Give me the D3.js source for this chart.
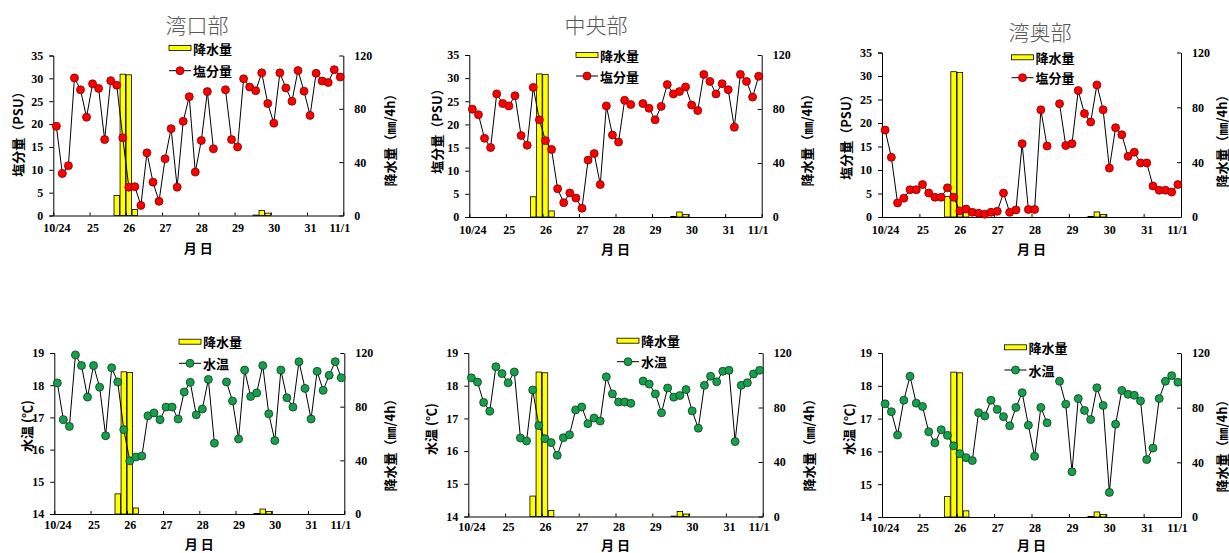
<!DOCTYPE html>
<html>
<head>
<meta charset="utf-8">
<script src="https://cdn.jsdelivr.net/npm/d3@7"></script>
<style>
  body { margin: 0; background: #fff; }
  svg text { font-family: "Noto Sans CJK JP", sans-serif; }
  .tick text { font-family: "Liberation Serif", serif; font-weight: bold; font-size: 12px; fill: #000; }
  .lbl { font-weight: bold; font-size: 13px; }
  .title { font-size: 21px; fill: #595959; font-weight: 300; }
</style>
</head>
<body>
<svg id="chart" width="1229" height="553"></svg>
<script>
// x tick labels (10/24 .. 11/1)
var dayLabels = ["10/24", "25", "26", "27", "28", "29", "30", "31", "11/1"];

// rainfall, mm per 4h (same station for every panel)
var rain = [0, 0, 0, 0, 0, 0, 0, 0, 0, 0,
  15, 106, 105.5, 4.5, 0, 0, 0, 0, 0, 0,
  0, 0, 0, 0, 0, 0, 0, 0, 0, 0,
  0, 0, 0, 0.3, 3.7, 1.8, 0, 0, 0, 0,
  0, 0, 0, 0, 0, 0, 0, 0];

// salinity (PSU)
var salMouth = [19.5, 9.2, 10.9, 30.1, 27.5, 21.5, 28.8, 27.8, 16.6, 29.5,
  28.5, 17.0, 6.2, 6.3, 2.2, 13.7, 7.3, 3.1, 12.4, 19.0,
  6.2, 20.6, 26.0, 9.5, 16.4, 27.1, 14.6, null, 27.5, 16.6,
  15.0, 29.9, 28.1, 27.3, 31.2, 24.5, 20.2, 31.2, 27.9, 25.0,
  31.7, 27.2, 21.9, 31.1, 29.4, 29.1, 31.9, 30.3];
var salCenter = [23.3, 22.1, 17.0, 15.0, 26.6, 24.5, 24.0, 26.2, 17.6, 15.5,
  28.0, 21.0, 16.5, 14.6, 6.1, 3.1, 5.2, 4.1, 1.9, 12.3,
  13.7, 7.0, 24.0, 17.7, 16.2, 25.2, 24.3, null, 24.5, 23.5,
  21.0, 23.9, 28.6, 26.6, 27.1, 28.1, 24.2, 23.0, 30.8, 29.3,
  26.6, 28.8, 27.5, 19.4, 30.8, 29.3, 25.9, 30.4];
var salInner = [18.5, 12.7, 3.0, 4.0, 5.8, 5.8, 6.9, 5.1, 4.2, 4.2,
  6.2, 4.2, 1.3, 1.7, 1.0, 0.8, 0.6, 1.0, 1.2, 5.1,
  1.0, 1.5, 15.6, 1.6, 1.6, 22.8, 15.1, null, 24.1, 15.2,
  15.6, 26.9, 22.0, 20.2, 28.1, 22.8, 10.4, 19.0, 17.5, 12.9,
  13.8, 11.5, 11.5, 6.6, 5.7, 5.7, 5.3, 6.9];

// water temperature (deg C)
var tempMouth = [18.07, 16.93, 16.72, 18.94, 18.61, 17.63, 18.61, 17.94, 16.43, 18.54,
  18.10, 16.62, 15.65, 15.77, 15.80, 17.05, 17.14, 16.93, 17.32, 17.32,
  16.95, 17.79, 18.09, 17.08, 17.26, 18.18, 16.20, null, 18.10, 17.51,
  16.33, 18.47, 17.65, 17.76, 18.61, 17.11, 16.28, 18.47, 17.61, 17.32,
  18.73, 17.90, 16.95, 18.43, 17.84, 18.31, 18.73, 18.23];
var tempCenter = [18.24, 18.11, 17.49, 17.22, 18.58, 18.37, 18.09, 18.42, 16.40, 16.31,
  17.87, 16.78, 16.38, 16.26, 15.87, 16.41, 16.50, 17.26, 17.35, 16.84,
  17.01, 16.92, 18.27, 17.75, 17.50, 17.50, 17.46, null, 18.14, 18.05,
  17.75, 17.17, 17.93, 17.65, 17.70, 17.88, 17.23, 16.70, 18.01, 18.29,
  18.12, 18.44, 18.47, 16.29, 18.01, 18.09, 18.36, 18.47];
var tempInner = [17.45, 17.21, 16.5, 17.56, 18.29, 17.47, 17.37, 16.60, 16.26, 16.66,
  16.49, 16.17, 15.93, 15.81, 15.72, 17.18, 17.08, 17.56, 17.28, 17.06,
  16.78, 17.34, 17.79, 16.80, 15.85, 17.34, 16.87, null, 18.14, 17.44,
  15.38, 17.61, 17.25, 16.97, 17.94, 17.40, 14.75, 16.83, 17.86, 17.74,
  17.71, 17.54, 15.75, 16.10, 17.61, 18.14, 18.31, 18.11];

var startDay = new Date(2000, 9, 24);
var endDay = new Date(2000, 10, 1);
// one reading every 4 hours, starting 02:00
var times = d3.range(rain.length).map(function (i) {
  return d3.timeHour.offset(startDay, 2 + i * 4);
});
var days = d3.timeDay.range(startDay, d3.timeDay.offset(endDay, 1));

var kinds = {
  sal: { domain: [0, 35], ticks: d3.range(0, 36, 5), label: "塩分量（PSU）", legend: "塩分量",
         fill: "#ff0000", stroke: "#7a0000", pad: 8 },
  temp: { domain: [14, 19], ticks: d3.range(14, 20, 1), label: "水温 (℃)", legend: "水温",
          fill: "#16a04c", stroke: "#0a3a1a", pad: 6 }
};

var panels = [
  { title: "湾口部", titleX: 197, titleY: 24, kind: "sal", values: salMouth,
    left: 53.3, right: 343.3, top: 55.5, bottom: 215.5,
    legX: 169, legY1: 48, legY2: 70.7, ylabX: 17, ylabY: 131, y2labX: 389, y2labY: 137, monthY: 247 },
  { title: "中央部", titleX: 596, titleY: 24, kind: "sal", values: salCenter,
    left: 469.3, right: 761.7, top: 55, bottom: 217,
    legX: 576, legY1: 55, legY2: 76, ylabX: 436, ylabY: 128, y2labX: 806, y2labY: 137, monthY: 248 },
  { title: "湾奥部", titleX: 1040, titleY: 31, kind: "sal", values: salInner,
    left: 882, right: 1181, top: 52.5, bottom: 217,
    legX: 1011.5, legY1: 57.3, legY2: 77.7, ylabX: 845, ylabY: 134, y2labX: 1221, y2labY: 138, monthY: 248 },
  { title: null, kind: "temp", values: tempMouth,
    left: 54.3, right: 344.3, top: 353, bottom: 514,
    legX: 179, legY1: 341.7, legY2: 363.3, ylabX: 26, ylabY: 426, y2labX: 389, y2labY: 442, monthY: 543 },
  { title: null, kind: "temp", values: tempCenter,
    left: 468.3, right: 762.7, top: 353, bottom: 516.5,
    legX: 617, legY1: 340.7, legY2: 361.7, ylabX: 430, ylabY: 429, y2labX: 808, y2labY: 442, monthY: 544 },
  { title: null, kind: "temp", values: tempInner,
    left: 882, right: 1181, top: 353, bottom: 517,
    legX: 1004.5, legY1: 347.3, legY2: 370, ylabX: 848, ylabY: 429, y2labX: 1221, y2labY: 443, monthY: 544 }
];

var svg = d3.select("#chart");

function drawPanel(p) {
  var k = kinds[p.kind];
  var g = svg.append("g");

  var x = d3.scaleTime().domain([startDay, endDay]).range([p.left, p.right]);
  var y = d3.scaleLinear().domain(k.domain).range([p.bottom, p.top]);
  var y2 = d3.scaleLinear().domain([0, 120]).range([p.bottom, p.top]);
  var step = x(times[1]) - x(times[0]);
  var barW = step * 0.9;

  if (p.title) {
    g.append("text")
      .attr("class", "title")
      .attr("x", p.titleX)
      .attr("y", p.titleY)
      .attr("text-anchor", "middle")
      .attr("dominant-baseline", "central")
      .text(p.title);
  }

  // rainfall bars (behind the line)
  var rainData = times.map(function (t, i) { return { t: t, v: rain[i] }; })
    .filter(function (d) { return d.v > 0; });
  g.selectAll(".bar")
    .data(rainData)
    .enter()
    .append("rect")
    .attr("class", "bar")
    .attr("x", (d) => x(d.t) - barW / 2)
    .attr("y", (d) => y2(d.v))
    .attr("width", barW)
    .attr("height", (d) => p.bottom - y2(d.v))
    .attr("fill", "#ffff00")
    .attr("stroke", "#000")
    .attr("stroke-width", 0.8);

  // axes
  var xAxis = d3.axisBottom(x)
    .tickValues(days)
    .tickSizeInner(-3)
    .tickSizeOuter(0)
    .tickPadding(k.pad)
    .tickFormat((d, i) => dayLabels[i]);
  var xg = g.append("g")
    .attr("transform", `translate(0, ${p.bottom})`)
    .call(xAxis);
  xg.selectAll(".tick text")
    .attr("dx", (d, i) => (i === dayLabels.length - 1 ? -4 : 3));

  var yAxis = d3.axisLeft(y)
    .tickValues(k.ticks)
    .tickSize(4)
    .tickPadding(6)
    .tickFormat(d3.format("d"));
  g.append("g")
    .attr("transform", `translate(${p.left}, 0)`)
    .call(yAxis);

  var y2Axis = d3.axisRight(y2)
    .tickValues([0, 40, 80, 120])
    .tickSizeInner(-4)
    .tickSizeOuter(0)
    .tickPadding(11);
  g.append("g")
    .attr("transform", `translate(${p.right}, 0)`)
    .call(y2Axis);

  g.selectAll(".domain").attr("stroke", "#000").attr("stroke-width", 1);
  g.selectAll(".tick line").attr("stroke", "#000");

  // series line
  var pts = times.map(function (t, i) { return { t: t, v: p.values[i] }; });
  var line = d3.line()
    .defined((d) => d.v != null)
    .x((d) => x(d.t))
    .y((d) => y(d.v));
  g.append("path")
    .datum(pts)
    .attr("d", line)
    .attr("fill", "none")
    .attr("stroke", "#000")
    .attr("stroke-width", 1);

  g.selectAll(".dot")
    .data(pts.filter((d) => d.v != null))
    .enter()
    .append("circle")
    .attr("class", "dot")
    .attr("cx", (d) => x(d.t))
    .attr("cy", (d) => y(d.v))
    .attr("r", 4)
    .attr("fill", k.fill)
    .attr("stroke", k.stroke)
    .attr("stroke-width", 0.8);

  // axis titles
  g.append("text")
    .attr("class", "lbl")
    .attr("transform", `translate(${p.ylabX}, ${p.ylabY}) rotate(-90)`)
    .attr("text-anchor", "middle")
    .attr("dominant-baseline", "central")
    .text(k.label);
  g.append("text")
    .attr("class", "lbl")
    .attr("transform", `translate(${p.y2labX}, ${p.y2labY}) rotate(-90)`)
    .attr("text-anchor", "middle")
    .attr("dominant-baseline", "central")
    .text("降水量（㎜/4h）");
  g.append("text")
    .attr("class", "lbl")
    .attr("x", (p.left + p.right) / 2)
    .attr("y", p.monthY)
    .attr("text-anchor", "middle")
    .attr("dominant-baseline", "central")
    .attr("font-size", "12px")
    .text("月 日");

  // legend
  g.append("rect")
    .attr("x", p.legX)
    .attr("y", p.legY1 - 2.5)
    .attr("width", 22)
    .attr("height", 5)
    .attr("fill", "#ffff00")
    .attr("stroke", "#000")
    .attr("stroke-width", 0.8);
  g.append("text")
    .attr("class", "lbl")
    .attr("x", p.legX + 24)
    .attr("y", p.legY1)
    .attr("dominant-baseline", "central")
    .attr("font-size", "12px")
    .text("降水量");
  g.append("line")
    .attr("x1", p.legX)
    .attr("x2", p.legX + 22)
    .attr("y1", p.legY2)
    .attr("y2", p.legY2)
    .attr("stroke", "#000");
  g.append("circle")
    .attr("cx", p.legX + 11)
    .attr("cy", p.legY2)
    .attr("r", 4)
    .attr("fill", k.fill)
    .attr("stroke", k.stroke)
    .attr("stroke-width", 0.8);
  g.append("text")
    .attr("class", "lbl")
    .attr("x", p.legX + 24)
    .attr("y", p.legY2)
    .attr("dominant-baseline", "central")
    .attr("font-size", "12px")
    .text(k.legend);
}

panels.forEach(drawPanel);
</script>
</body>
</html>
